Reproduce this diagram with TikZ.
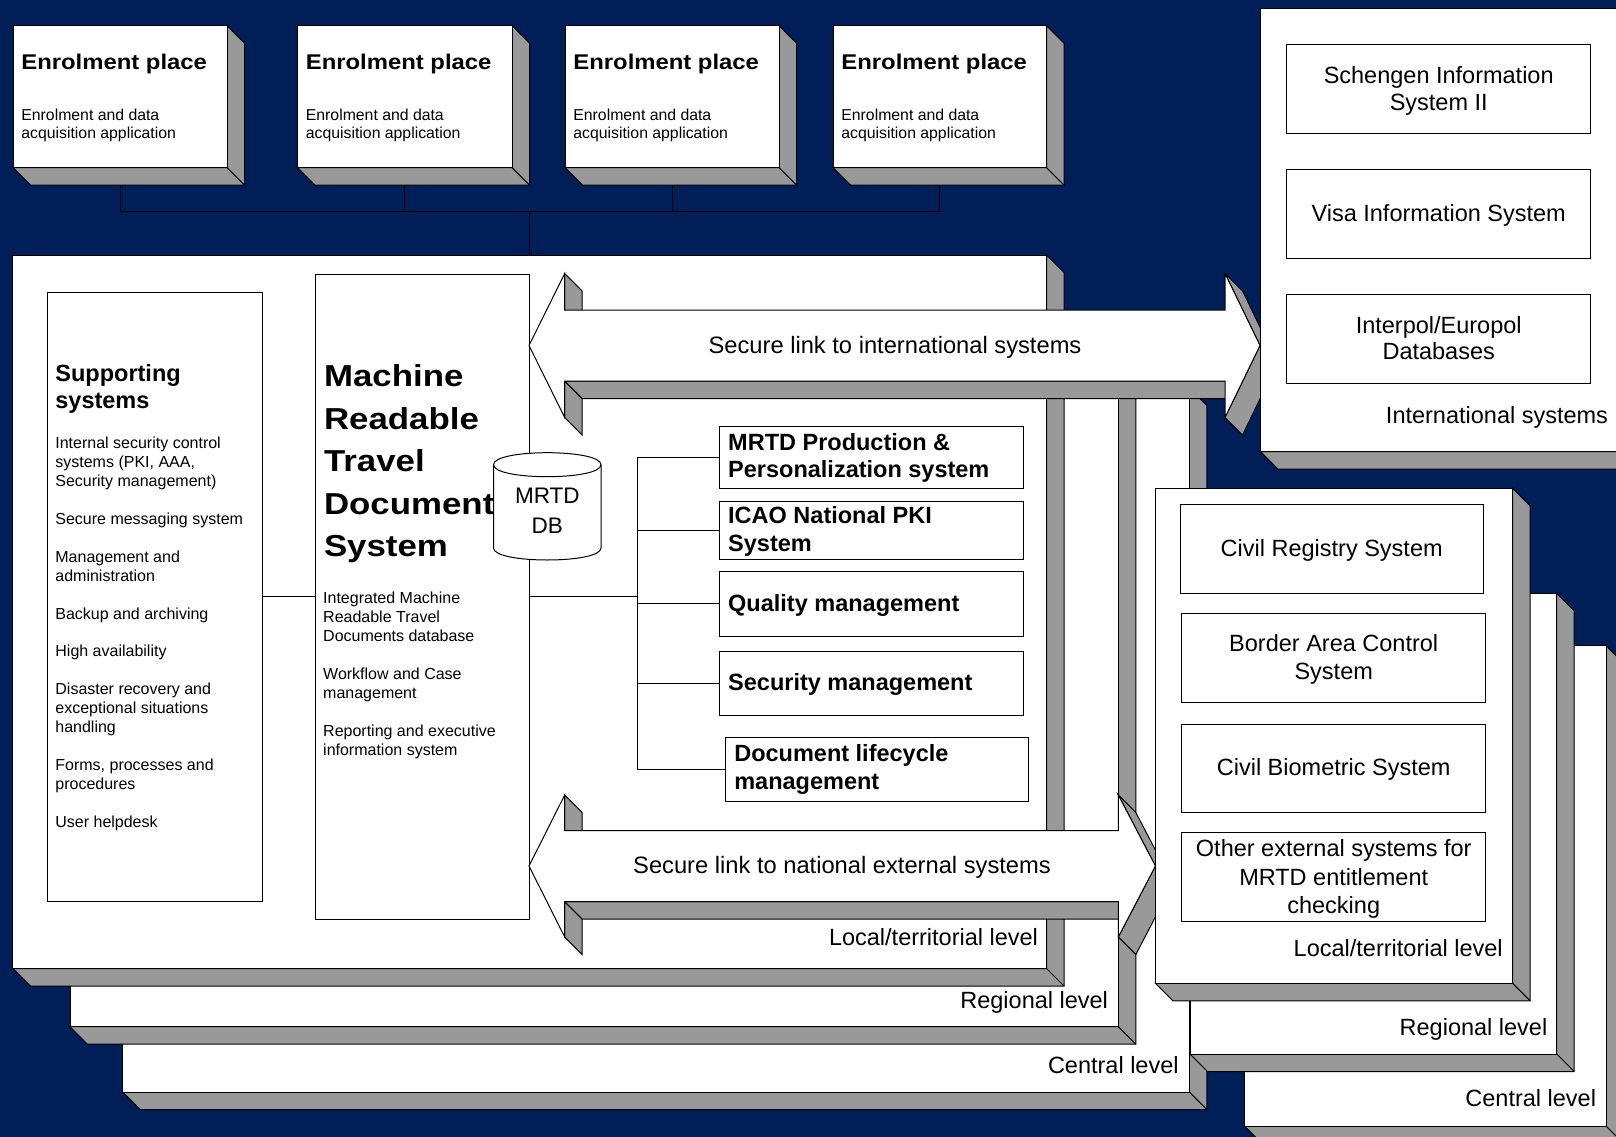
\documentclass[tikz,border=0pt]{standalone}
\usepackage{fontspec}
\setmainfont{Liberation Sans}
\newfontfamily\enrfont[FakeStretch=1.12]{Liberation Sans}
\newfontfamily\ttlfont[FakeStretch=1.15]{Liberation Sans}
\usetikzlibrary{calc}
\definecolor{navy}{RGB}{0,30,87}
\definecolor{sidegrey}{RGB}{153,153,153}
\newcommand{\fsz}[1]{\fontsize{#1}{#1}\selectfont}
\newcommand{\depthiii}{17.5}
% 3D box: name, x1, y1, x2, y2 (y grows downwards)
\newcommand{\boxiii}[5]{%
  \filldraw[extr] (#4,#3) -- (#4+\depthiii,#3+\depthiii) -- (#4+\depthiii,#5+\depthiii) -- (#2+\depthiii,#5+\depthiii) -- (#2,#5) -- (#4,#5) -- cycle;
  \draw[extr] (#4,#5) -- (#4+\depthiii,#5+\depthiii);
  \node[front, minimum width={(#4-#2)*1pt}, minimum height={(#5-#3)*1pt}] (#1) at (#2,#3) {};
}
\newcommand{\flatbox}[5]{%
  \node[front, minimum width={(#4-#2)*1pt}, minimum height={(#5-#3)*1pt}] (#1) at (#2,#3) {};
}
% 3D double block arrow: tipL, baseL, baseR, tipR, centre y, head half height, body half height
\newcommand{\blockarrow}[7]{%
  \filldraw[extr] (#2,#5-#6) -- (#2,#5-#7) -- (#2+\depthiii,#5-#7+\depthiii) -- (#2+\depthiii,#5-#6+\depthiii) -- cycle;
  \filldraw[extr] (#2,#5+#7) -- (#2,#5+#6) -- (#2+\depthiii,#5+#6+\depthiii) -- (#2+\depthiii,#5+#7+\depthiii) -- cycle;
  \filldraw[extr] (#3,#5+#7) -- (#2,#5+#7) -- (#2+\depthiii,#5+#7+\depthiii) -- (#3+\depthiii,#5+#7+\depthiii) -- cycle;
  \filldraw[extr] (#3,#5-#6) -- (#4,#5) -- (#4+\depthiii,#5+\depthiii) -- (#3+\depthiii,#5-#6+\depthiii) -- cycle;
  \filldraw[extr] (#4,#5) -- (#3,#5+#6) -- (#3+\depthiii,#5+#6+\depthiii) -- (#4+\depthiii,#5+\depthiii) -- cycle;
  \filldraw[fill=white, draw=black, line width=1pt] (#1,#5) -- (#2,#5-#6) -- (#2,#5-#7) -- (#3,#5-#7) -- (#3,#5-#6) -- (#4,#5) -- (#3,#5+#6) -- (#3,#5+#7) -- (#2,#5+#7) -- (#2,#5+#6) -- cycle;
}
\begin{document}
\begin{tikzpicture}[x=1pt,y=-1pt,
  extr/.style={fill=sidegrey, draw=black, line width=1pt},
  front/.style={draw=black, fill=white, line width=1pt, inner sep=0pt, outer sep=0pt, anchor=north west},
  conn/.style={draw=black, line width=1pt},
  lbl/.style={inner sep=0pt, outer sep=0pt, font=\fsz{23.5}},
  lblb/.style={inner sep=0pt, outer sep=0pt, font=\bfseries\fsz{23.5}},
  sml/.style={inner sep=0pt, outer sep=0pt, font=\fsz{16}},
  enrt/.style={inner sep=0pt, outer sep=0pt, font=\enrfont\bfseries\fsz{21.3}},
  enrs/.style={inner sep=0pt, outer sep=0pt, font=\fsz{15.8}},
  ttl/.style={inner sep=0pt, outer sep=0pt, font=\ttlfont\bfseries\fsz{30.3}},
  arr/.style={inner sep=0pt, outer sep=0pt, font=\fsz{23.7}}]
\useasboundingbox (0,0) rectangle (1616,1137);
\clip (0,0) rectangle (1616,1137);
\fill[navy] (0,0) rectangle (1616,1137);

% ---------- Enrolment places ----------
\boxiii{e1}{13}{25.7}{227}{167.7}
\boxiii{e2}{297.5}{25.7}{512}{167.7}
\boxiii{e3}{565}{25.7}{779}{167.7}
\boxiii{e4}{833}{25.7}{1046.5}{167.7}
\foreach \b/\x in {e1/21.4,e2/305.9,e3/573.4,e4/841.4}{
  \node[enrt, anchor=base west] (\b-t) at (\x,70) {Enrolment place};
  \node[enrs, anchor=base west] (\b-s1) at (\x,121) {Enrolment and data};
  \node[enrs, anchor=base west] (\b-s2) at (\x,139) {acquisition application};
}
\coordinate (bus) at (0,211.7);
\coordinate (drop) at (529,211.7);
\foreach \b in {e1,e2,e3,e4}
  \draw[conn] ($(\b.south)+(0,\depthiii)$) -- (\b.south |- bus);
\draw[conn] (e1.south |- bus) -- (e4.south |- bus);

% ---------- Left levels ----------
\boxiii{lcen}{122.6}{388}{1189.3}{1092}
\boxiii{lreg}{70}{340}{1118.3}{1026.7}
\boxiii{lloc}{12.9}{255}{1046.5}{968.5}
\draw[conn] (drop) -- (drop |- lloc.north);
\node[lbl, anchor=base east] (lloc-l) at (1038,945) {Local/territorial level};
\node[lbl, anchor=base east] (lreg-l) at (1108,1008) {Regional level};
\node[lbl, anchor=base east] (lcen-l) at (1178.6,1073) {Central level};

% ---------- Supporting systems ----------
\flatbox{sup}{47.5}{292.3}{262.5}{901.7}
\node[lblb, anchor=base west] (sup-t1) at (55.4,381.5) {Supporting};
\node[lblb, anchor=base west] (sup-t2) at (55.4,408.5) {systems};
\foreach \k/\t in {0/Internal security control, 1/{systems (PKI, AAA,}, 2/Security management),
   4/Secure messaging system, 6/Management and, 7/administration, 9/Backup and archiving,
   11/High availability, 13/Disaster recovery and, 14/exceptional situations, 15/handling,
   17/{Forms, processes and}, 18/procedures, 20/User helpdesk}
  \node[sml, anchor=base west] (sup-\k) at (55.4,{448.5+18.95*\k}) {\t};

% ---------- MRTD system ----------
\flatbox{mrtd}{315.4}{274.3}{529.3}{919.3}
\foreach \k/\t in {0/Machine, 1/Readable, 2/Travel, 3/Document, 4/System}
  \node[ttl, anchor=base west] (mt-\k) at (324,{386.7+42.5*\k}) {\t};
\foreach \y/\t [count=\n] in {603/Integrated Machine, 622/Readable Travel, 641/Documents database,
   679/Workflow and Case, 698/management, 736/Reporting and executive, 755/information system}
  \node[sml, anchor=base west] (ms-\n) at (323.2,\y) {\t};

% database cylinder
\filldraw[fill=white, draw=black, line width=1pt] (493.5,464.7) -- (493.5,548)
  .. controls (493.5,564) and (601,564) .. (601,548) -- (601,464.7)
  .. controls (601,448.7) and (493.5,448.7) .. (493.5,464.7) -- cycle;
\draw[line width=1pt] (493.5,464.7) .. controls (493.5,480.7) and (601,480.7) .. (601,464.7);
\node[lbl, font=\fsz{22.5}, anchor=base] (db-1) at (547.3,503) {MRTD};
\node[lbl, font=\fsz{22.5}, anchor=base] (db-2) at (547.3,533) {DB};

% ---------- subsystems ----------
\flatbox{prod}{719.3}{426}{1023.6}{488.3}
\flatbox{icao}{719.3}{501.7}{1023.6}{559.3}
\flatbox{qual}{719.3}{571.7}{1023.6}{636}
\flatbox{sec}{719.3}{651.7}{1023.6}{715}
\flatbox{doc}{725.7}{737.3}{1028.2}{801}
\node[lblb, anchor=base west] (prod-1) at (728.2,450) {MRTD Production \&};
\node[lblb, anchor=base west] (prod-2) at (728.2,477.5) {Personalization system};
\node[lblb, anchor=base west] (icao-1) at (728.2,523) {ICAO National PKI};
\node[lblb, anchor=base west] (icao-2) at (728.2,551) {System};
\node[lblb, anchor=base west] (qual-1) at (728.2,611) {Quality management};
\node[lblb, anchor=base west] (sec-1) at (728.2,690) {Security management};
\node[lblb, anchor=base west] (doc-1) at (734.3,761.5) {Document lifecycle};
\node[lblb, anchor=base west] (doc-2) at (734.3,789) {management};

\coordinate (trunk) at (637.1,0);
\coordinate (j1) at (0,596.7);
\draw[conn] (sup.east |- j1) -- (mrtd.west |- j1);
\draw[conn] (mrtd.east |- j1) -- (trunk |- j1);
\draw[conn] (trunk |- prod.west) -- (trunk |- doc.west);
\foreach \b in {prod,icao,qual,sec,doc}
  \draw[conn] (trunk |- \b.west) -- (\b.west);

% ---------- block arrows ----------
\blockarrow{529}{564.7}{1225}{1260}{345.5}{72}{35.5}
\node[arr, anchor=base] (link-int) at (895,353) {Secure link to international systems};
\blockarrow{529}{564.7}{1118.3}{1155.4}{866}{71}{35.5}
\node[arr, anchor=base] (link-nat) at (842,873) {Secure link to national external systems};

% ---------- Right levels ----------
\boxiii{rcen}{1244.3}{645.7}{1606}{1126}
\boxiii{rreg}{1190}{593.3}{1556.7}{1054}
\boxiii{rloc}{1155.5}{488.3}{1512.7}{983.3}
\node[lbl, anchor=base east] (rloc-l) at (1502.7,956.5) {Local/territorial level};
\node[lbl, anchor=base east] (rreg-l) at (1547.3,1035) {Regional level};
\node[lbl, anchor=base east] (rcen-l) at (1596,1106.5) {Central level};
\flatbox{civ}{1180}{504}{1483.3}{593.3}
\flatbox{bac}{1181.7}{613.3}{1485.7}{702.7}
\flatbox{cbs}{1181.7}{724.3}{1485.7}{812.7}
\flatbox{oth}{1181.7}{832.3}{1485.7}{921.7}
\node[lbl, anchor=base] (civ-1) at (1331.7,556.5) {Civil Registry System};
\node[lbl, anchor=base] (bac-1) at (1333.7,651) {Border Area Control};
\node[lbl, anchor=base] (bac-2) at (1333.7,679.5) {System};
\node[lbl, anchor=base] (cbs-1) at (1333.7,775.5) {Civil Biometric System};
\node[lbl, anchor=base] (oth-1) at (1333.7,856.5) {Other external systems for};
\node[lbl, anchor=base] (oth-2) at (1333.7,885) {MRTD entitlement};
\node[lbl, anchor=base] (oth-3) at (1333.7,913) {checking};

% ---------- International systems ----------
\boxiii{intl}{1260.5}{8.3}{1630}{451.7}
\flatbox{sis}{1286.7}{45}{1590.7}{134}
\flatbox{vis}{1286.7}{169.3}{1590.7}{258.3}
\flatbox{ipe}{1286.7}{294}{1590.7}{383.3}
\node[lbl, anchor=base] (sis-1) at (1438.7,84) {Schengen Information};
\node[lbl, anchor=base] (sis-2) at (1438.7,110.5) {System II};
\node[lbl, anchor=base] (vis-1) at (1438.7,221.5) {Visa Information System};
\node[lbl, anchor=base] (ipe-1) at (1438.7,333.5) {Interpol/Europol};
\node[lbl, anchor=base] (ipe-2) at (1438.7,359.5) {Databases};
\node[lbl, anchor=base east] (intl-l) at (1608,423) {International systems};
\end{tikzpicture}
\end{document}
